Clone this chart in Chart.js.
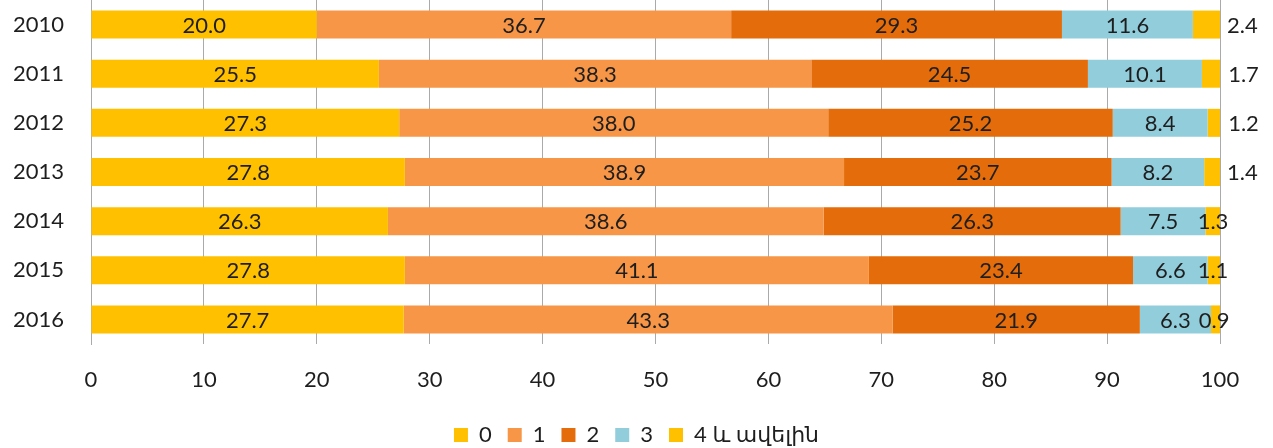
<!DOCTYPE html>
<html>
<head>
<meta charset="utf-8">
<script src="https://cdn.jsdelivr.net/npm/chart.js@4"></script>
<style>
  html, body { margin: 0; padding: 0; background: #fff; }
  #wrap { width: 1273px; height: 448px; }
</style>
</head>
<body>
<div id="wrap"><canvas id="chart" width="1273" height="448"></canvas></div>
<script>
const years = ['2010', '2011', '2012', '2013', '2014', '2015', '2016'];
const seriesNames = ['0', '1', '2', '3', '4 և ավելին'];
const s0 = [20.0, 25.5, 27.3, 27.8, 26.3, 27.8, 27.7];
const s1 = [36.7, 38.3, 38.0, 38.9, 38.6, 41.1, 43.3];
const s2 = [29.3, 24.5, 25.2, 23.7, 26.3, 23.4, 21.9];
const s3 = [11.6, 10.1, 8.4, 8.2, 7.5, 6.6, 6.3];
const s4 = [2.4, 1.7, 1.2, 1.4, 1.3, 1.1, 0.9];
const xTicks = [0, 10, 20, 30, 40, 50, 60, 70, 80, 90, 100];

const colors = ['#FFC000', '#F79646', '#E46C0A', '#92CDDC', '#FFC000'];
// last series: which rows put the label beside the bar (Excel did it that way)
const lastOutside = [true, true, true, true, false, false, false];

const FONT = 'Lato, "DejaVu Sans", sans-serif';
const TXT = '#1e1e1e';

const labelPlugin = {
  id: 'barLabels',
  afterDatasetsDraw(chart) {
    const ctx = chart.ctx;
    ctx.save();
    ctx.font = '22px ' + FONT;
    ctx.fillStyle = TXT;
    ctx.textBaseline = 'middle';
    chart.data.datasets.forEach((ds, di) => {
      const meta = chart.getDatasetMeta(di);
      meta.data.forEach((bar, i) => {
        const txt = ds.data[i].toFixed(1);
        if (di === 4) {
          if (lastOutside[i]) {
            ctx.textAlign = 'left';
            ctx.fillText(txt, bar.x + 7, bar.y + 1);
          } else {
            ctx.textAlign = 'center';
            ctx.fillText(txt, bar.x - 7, bar.y + 1);
          }
        } else {
          ctx.textAlign = 'center';
          ctx.fillText(txt, (bar.x + bar.base) / 2, bar.y + 1);
        }
      });
    });
    ctx.restore();
  }
};

const legendSize = {
  id: 'legendSize',
  beforeInit(chart) {
    const fit = chart.legend.fit;
    chart.legend.fit = function () {
      fit.call(this);
      this.height = 40;
    };
  }
};

const allSeries = [s0, s1, s2, s3, s4];

new Chart(document.getElementById('chart').getContext('2d'), {
  type: 'bar',
  data: {
    labels: years,
    datasets: allSeries.map((d, k) => ({
      label: seriesNames[k],
      data: d,
      backgroundColor: colors[k],
      borderWidth: 0,
      barPercentage: 0.57,
      categoryPercentage: 1
    }))
  },
  options: {
    indexAxis: 'y',
    responsive: false,
    animation: false,
    layout: { padding: 0 },
    plugins: {
      legend: {
        position: 'bottom',
        labels: {
          font: { family: FONT, size: 22 },
          color: TXT,
          boxWidth: 14,
          boxHeight: 14,
          padding: 16
        }
      },
      tooltip: { enabled: false }
    },
    scales: {
      x: {
        stacked: true,
        min: 0,
        max: 100,
        afterBuildTicks(scale) { scale.ticks = xTicks.map(v => ({ value: v })); },
        afterFit(scale) {
          scale.height = 64;
          scale.paddingRight = 53;
        },
        grid: { color: '#aaaaaa', drawTicks: false },
        border: { display: false },
        ticks: { font: { family: FONT, size: 22 }, color: TXT, padding: 23 }
      },
      y: {
        stacked: true,
        afterFit(scale) {
          scale.width = 91;
          scale.paddingTop = 0;
          scale.paddingBottom = 0;
        },
        grid: { display: false, drawTicks: false },
        border: { display: true, color: '#aaaaaa' },
        ticks: { font: { family: FONT, size: 22 }, color: TXT, padding: 27 }
      }
    }
  },
  plugins: [labelPlugin, legendSize]
});
</script>
</body>
</html>
